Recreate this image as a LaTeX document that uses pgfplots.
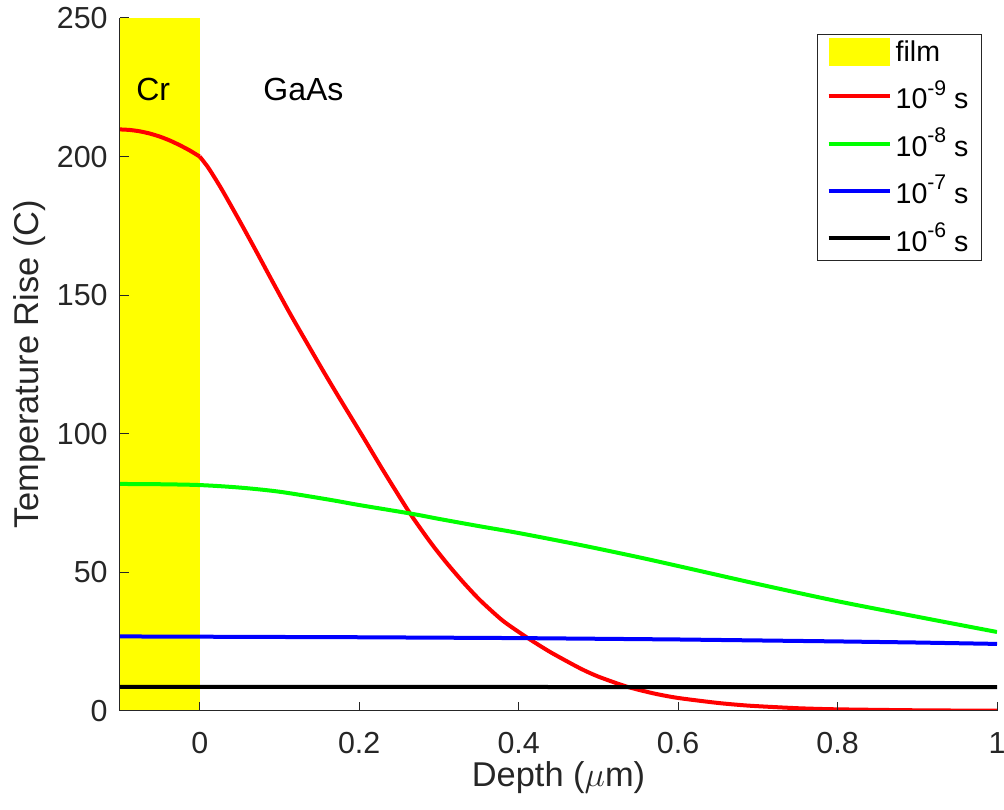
\documentclass[border=0pt]{standalone}
\usepackage{fontspec}
\setmainfont{Liberation Sans}
\usepackage{pgfplots}
\pgfplotsset{compat=1.18}
\definecolor{axgray}{RGB}{38,38,38}
\definecolor{mred}{RGB}{255,0,0}
\definecolor{mgreen}{RGB}{0,255,0}
\definecolor{mblue}{RGB}{0,0,255}
\definecolor{myellow}{RGB}{255,255,0}
\newcommand{\sups}[1]{\raisebox{0.48em}{\fontsize{10.6}{12}\selectfont #1}}
\begin{document}
\begin{tikzpicture}
\begin{axis}[
  scale only axis, width=438.5pt, height=346.5pt,
  xmin=-0.1, xmax=1, ymin=0, ymax=250,
  axis x line*=bottom, axis y line*=left,
  axis line style={axgray, line width=0.5pt, -},
  xtick={0,0.2,0.4,0.6,0.8,1},
  xticklabels={0,0.2,0.4,0.6,0.8,1},
  ytick={0,50,100,150,200,250},
  tick align=inside, major tick length=4.5pt,
  tick style={axgray, line width=0.5pt},
  ticklabel style={font=\fontsize{15.2}{18}\selectfont, text=axgray},
  /pgf/number format/assume math mode=true,
  xticklabel style={anchor=north, inner sep=0pt, yshift=-10.5pt},
  yticklabel style={anchor=east, inner sep=0pt, xshift=-6pt},
  xlabel={Depth ($\mu$m)}, ylabel={Temperature Rise (C)},
  label style={font=\fontsize{17.2}{20}\selectfont, text=axgray},
  xlabel style={at={(axis description cs:0.5,-0.0722)}, anchor=north, inner sep=0pt},
  ylabel style={at={(axis description cs:-0.122,0.5)}, anchor=north, inner sep=0pt},
  axis on top,
  legend style={at={(axis description cs:0.9829,0.9769)}, anchor=north east,
    draw=axgray, line width=0.5pt, fill=white,
    font=\fontsize{14.3}{16}\selectfont,
    inner xsep=4.5pt, inner ysep=1pt, row sep=4pt},
  legend cell align=left,
  legend image code/.code={\draw[#1] (0pt,0pt) -- (30.5pt,0pt);},
]
\addplot[draw=none, fill=myellow,
  legend image code/.code={\fill[myellow] (0pt,-7pt) rectangle (30.5pt,7pt);}]
  coordinates {(-0.1,250) (0,250)} \closedcycle;
\addlegendentry{film}

\addplot[mred, line width=2pt, smooth, tension=0.4, forget plot] coordinates {
(-0.1,209.8) (-0.0875,209.6) (-0.075,209.1) (-0.0625,208.3) (-0.05,207.2)
(-0.0375,205.8) (-0.025,204.1) (-0.0125,202.2) (0,200)
};
\addplot[mred, line width=2pt, smooth, tension=0.4] coordinates {
(0,200)
(0.01,196.3) (0.02,191.8) (0.03,187) (0.05,176.8) (0.07,166.3)
(0.09,155.6) (0.113,143.5) (0.135,132.5) (0.155,122.6) (0.176,112.5)
(0.205,98.8) (0.23,86.8) (0.2637,71.3) (0.29,60.6) (0.31,53.3)
(0.33,46.6) (0.3515,40) (0.38,32.6) (0.41,26.6) (0.44,21.2)
(0.477,15.4) (0.5,12.4) (0.5355,8.8) (0.57,6.3) (0.6,4.7)
(0.65,2.9) (0.69,1.9) (0.75,1.0) (0.8,0.6) (0.9,0.25) (1.0,0.1)
};
\addlegendentry{10\sups{-9} s}

\addplot[mgreen, line width=2pt, smooth, tension=0.5] coordinates {
(-0.1,81.9) (-0.05,81.8) (0,81.5) (0.05,80.6) (0.1,79.1) (0.163,76.2)
(0.2,74.3) (0.265,71.2) (0.3,69.3) (0.35,66.7) (0.4,64.2) (0.477,59.9)
(0.55,55.5) (0.6,52.3) (0.7,45.8) (0.8,39.6) (0.9,34) (1.0,28.5)
};
\addlegendentry{10\sups{-8} s}

\addplot[mblue, line width=2pt] coordinates {
(-0.1,26.9) (0,26.8) (0.2,26.6) (0.4,26.3) (0.6,25.8) (0.8,25.1) (0.9,24.7) (1.0,24.2)
};
\addlegendentry{10\sups{-7} s}

\addplot[black, line width=2pt] coordinates {
(-0.1,8.7) (0.5,8.65) (1.0,8.6)
};
\addlegendentry{10\sups{-6} s}

\node[anchor=base west, inner sep=0pt, font=\fontsize{16}{19}\selectfont] at (axis cs:-0.08,220.4) {Cr};
\node[anchor=base west, inner sep=0pt, font=\fontsize{16}{19}\selectfont] at (axis cs:0.0794,220.4) {GaAs};
\end{axis}
\pgfresetboundingbox
\path ([shift={(-60pt,-49.5pt)}]current axis.south west) rectangle ([shift={(3.5pt,9pt)}]current axis.north east);
\end{tikzpicture}
\end{document}
